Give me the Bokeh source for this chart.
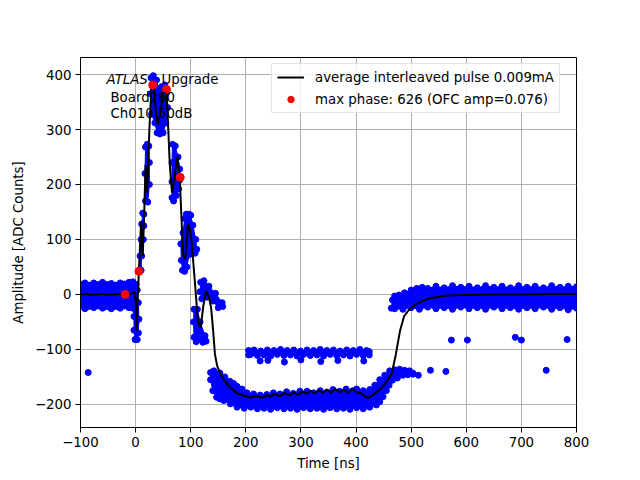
from bokeh.plotting import figure
from bokeh.models import (Range1d, FixedTicker, CustomJSTickFormatter, Legend,
                          LegendItem, Label)
from bokeh.embed import file_html
from bokeh.resources import INLINE

# tick positions
x_ticks = [-100, 0, 100, 200, 300, 400, 500, 600, 700, 800]
y_ticks = [-200, -100, 0, 100, 200, 300, 400]

# average interleaved pulse (time in ns, amplitude in ADC counts)
avg_t = [-100, -90, -80, -70, -60, -50, -40, -30, -20, -10, -5, -2, 0, 2, 4, 6,
         10, 13, 16, 18, 21, 25, 29, 32, 36, 40, 45, 50, 54, 56, 58, 62, 66, 71,
         76, 80, 83, 86, 90, 95, 98, 101, 107, 113, 118, 123, 128, 133, 137, 141,
         144, 148, 153, 160, 170, 185, 207, 218, 230, 238, 245, 253, 262, 270, 280,
         287, 295, 302, 310, 317, 325, 332, 340, 347, 355, 362, 370, 377, 385, 393,
         401, 410, 420, 430, 444, 455, 465, 472, 480, 487,
         495, 505, 516, 530, 550, 565, 600, 650, 700, 750, 800]
avg_amp = [0, 1, -1, 0, 1, -1, 0, 1, 0, 1, 3, 4, -10, -67, 0, 42,
           133, 70, 160, 236, 185, 300, 383, 385, 340, 309, 330, 368, 378, 372, 330, 236, 185, 215,
           251, 213, 145, 73, 64, 127, 118, 103, 30, -48, -61, -20, 6, -5, -24, -70,
           -109, -130, -143, -155, -168, -180, -188, -185, -188, -183, -186, -181, -185, -179, -184,
           -178, -183, -176, -181, -175, -180, -174, -179, -173, -179, -172, -178, -173, -179, -172,
           -178, -180, -188, -184, -172, -160, -143, -110, -65, -40,
           -29, -20, -14, -8, -4, -2, -1, 0, 0, 1, 1]

# samples at the phase of the maximum
max_t = [-19, 6, 31, 56, 81]
max_amp = [0, 42, 381, 373, 213]

# outlines of the dense clouds of single-pulse samples
base_left_t = [-100, -92, -84, -76, -68, -60, -52, -44, -36, -28, -20, -12, -5, 1, 3, 5, 6, 5, 3,
               -1, -3, -3, -5, -12, -20, -28, -36, -44, -52, -60, -68, -76, -84, -92, -100]
base_left_amp = [18, 21, 17, 21, 18, 22, 18, 20, 17, 21, 19, 22, 23, 18, 8, -15, -45, -70, -82,
                 -82, -65, -40, -25, -24, -21, -25, -22, -26, -22, -25, -21, -24, -22, -26, -22]

c2_t = [8, 10, 11, 14, 15, 15, 13, 11, 10, 8]
c2_amp = [45, 44, 70, 100, 125, 146, 148, 128, 100, 70]

c3_t = [18, 22, 25, 25, 24, 21, 18, 17]
c3_amp = [170, 168, 200, 240, 270, 273, 268, 220]

c4_t = [28, 32, 38, 42, 47, 53, 57, 58, 55, 50, 44, 39, 35, 29, 27]
c4_amp = [394, 398, 390, 372, 378, 381, 368, 340, 312, 294, 292, 294, 312, 328, 365]

c5_t = [67, 72, 77, 80, 80, 78, 74, 69, 66, 66, 66]
c5_amp = [273, 270, 250, 228, 208, 192, 180, 170, 176, 205, 240]

c6_t = [92, 97, 100, 104, 109, 111, 108, 103, 97, 93, 89, 85, 83, 82, 86, 89]
c6_amp = [146, 146, 144, 126, 100, 82, 75, 80, 72, 50, 42, 44, 62, 92, 112, 138]

c7_t = [106, 112, 117, 126, 128, 122, 110, 106, 105]
c7_amp = [-27, -27, -50, -75, -85, -87, -86, -78, -50]

c8_t = [118, 124, 133, 145, 157, 158, 150, 140, 130, 120, 117]
c8_amp = [22, 25, 15, 2, -15, -22, -24, -12, -5, -8, 5]

low_t = [136, 142, 153, 162, 171, 178, 184, 193, 202, 214, 226, 238, 250, 262, 274, 286, 298,
         311, 323, 335, 347, 358, 370, 382, 394, 401, 413, 425, 434, 443, 452, 461, 470, 479,
         488, 497, 503,
         503, 494, 485, 475, 466, 460, 455, 449, 443, 437, 425, 413, 401, 389, 377, 365, 353,
         341, 329, 317, 305, 293, 281, 269, 257, 245, 233, 221, 209, 197, 184, 172, 160, 153,
         147, 140, 136]
low_amp = [-142, -139, -143, -150, -158, -162, -167, -172, -179, -181, -183, -182, -179, -181,
           -177, -180, -176, -176, -179, -175, -178, -173, -176, -172, -175, -172, -175, -173,
           -165, -155, -147, -139, -137, -136, -138, -139, -143,
           -145, -146, -147, -152, -156, -165, -175, -186, -195, -201, -205, -208, -206, -209,
           -207, -208, -206, -209, -207, -208, -206, -209, -207, -208, -206, -209, -207, -208,
           -205, -207, -205, -199, -193, -190, -187, -175, -155]

band_t = [205, 215, 227, 239, 251, 263, 275, 287, 299, 311, 323, 335, 347, 359, 371, 383, 395,
          407, 419, 424,
          424, 413, 401, 389, 377, 365, 353, 341, 329, 317, 305, 293, 281, 269, 257, 245, 233,
          221, 209, 205]
band_amp = [-102, -101, -103, -101, -102, -100, -102, -101, -103, -101, -102, -100, -102, -101,
            -103, -101, -102, -100, -102, -104,
            -110, -111, -109, -112, -110, -111, -109, -112, -110, -111, -109, -112, -110, -111,
            -109, -112, -110, -111, -109, -110]

base_right_t = [466, 470, 478, 488, 500, 510, 520, 530, 545, 560, 575, 590, 605, 620, 635, 650,
                665, 680, 695, 710, 725, 740, 755, 770, 785, 800,
                800, 785, 770, 755, 740, 725, 710, 695, 680, 665, 650, 635, 620, 605, 590, 575,
                560, 545, 530, 515, 500, 485, 470, 464]
base_right_amp = [-10, -3, -1, 3, 8, 11, 13, 11, 15, 12, 16, 13, 15, 12, 16, 13,
                  15, 12, 16, 13, 15, 12, 16, 13, 15, 14,
                  -25, -28, -24, -27, -23, -26, -24, -27, -24, -26, -23, -27, -24, -26, -23, -27,
                  -24, -26, -23, -27, -24, -27, -26, -25]

stray_t = [-86, 226, 240, 270, 300, 336, 367, 414, 513, 535, 563, 573, 602, 689, 700, 745, 783]
stray_amp = [-142, -121, -120, -123, -119, -122, -120, -121, -147, -138, -140, -83, -83, -78,
             -83, -138, -82]

clouds_t = [base_left_t, c2_t, c3_t, c4_t, c5_t, c6_t, c7_t, c8_t, low_t, band_t, base_right_t]
clouds_amp = [base_left_amp, c2_amp, c3_amp, c4_amp, c5_amp, c6_amp, c7_amp, c8_amp, low_amp,
              band_amp, base_right_amp]

FONT = "DejaVu Sans"
BLUE = "#0000ff"

p = figure(frame_width=496, frame_height=370,
           x_range=Range1d(-100, 800), y_range=Range1d(-242, 431),
           min_border_left=80, min_border_right=64, min_border_top=57, min_border_bottom=53,
           x_axis_label="Time [ns]", y_axis_label="Amplitude [ADC Counts]",
           output_backend="svg", toolbar_location=None)
p.background_fill_color = "white"
p.border_fill_color = "white"
p.outline_line_color = "black"
p.outline_line_width = 1

# sample clouds
p.patches(clouds_t, clouds_amp, fill_color=BLUE, line_color=BLUE, line_width=1)
dots_t = [t for ts in clouds_t for t in ts] + stray_t
dots_amp = [a for amps in clouds_amp for a in amps] + stray_amp
p.scatter(dots_t, dots_amp, size=6, color=BLUE)

avg_r = p.line(avg_t, avg_amp, color="black", line_width=2)
max_r = p.scatter(max_t, max_amp, size=8, color="#ff0000")

minus = CustomJSTickFormatter(code="""
    return (tick < 0 ? "\\u2212" : "") + Math.abs(tick).toFixed(0);
""")
p.xaxis.ticker = FixedTicker(ticks=x_ticks)
p.yaxis.ticker = FixedTicker(ticks=y_ticks)
for ax in (p.xaxis, p.yaxis):
    ax.formatter = minus
    ax.major_label_text_font = FONT
    ax.major_label_text_font_size = "10pt"
    ax.major_label_text_color = "black"
    ax.axis_label_text_font = FONT
    ax.axis_label_text_font_size = "10pt"
    ax.axis_label_text_font_style = "normal"
    ax.axis_label_text_color = "black"
    ax.axis_line_color = "black"
    ax.major_tick_line_color = "black"
    ax.major_tick_out = 5
    ax.major_tick_in = 0
    ax.minor_tick_line_color = None
    ax.major_label_standoff = 4
p.xaxis.axis_label_standoff = 6
p.yaxis.axis_label_standoff = 6

p.grid.grid_line_color = "#b0b0b0"
p.grid.grid_line_width = 1

legend = Legend(items=[
    LegendItem(label="average interleaved pulse 0.009mA", renderers=[avg_r]),
    LegendItem(label="max phase: 626 (OFC amp=0.076)", renderers=[max_r]),
], location=(191, 314))
legend.label_text_font = FONT
legend.label_text_font_size = "10pt"
legend.label_text_color = "black"
legend.glyph_width = 27
legend.glyph_height = 16
legend.label_height = 16
legend.label_standoff = 11
legend.padding = 5
legend.spacing = 6
legend.margin = 0
legend.border_line_color = "#cccccc"
legend.border_line_width = 1
legend.background_fill_alpha = 0.8
p.add_layout(legend)

# experiment tag
for x, y, txt, style in [(-52.8, 391, "ATLAS", "italic"), (47, 391, "Upgrade", "normal"),
                         (-45.6, 357.5, "Board260", "normal"),
                         (-45.6, 328.7, "Ch010 50dB", "normal")]:
    p.add_layout(Label(x=x, y=y, text=txt, text_font=FONT, text_font_size="10pt",
                       text_font_style=style, text_color="black",
                       text_baseline="alphabetic"))

open("out.html", "w").write(file_html(p, INLINE))
